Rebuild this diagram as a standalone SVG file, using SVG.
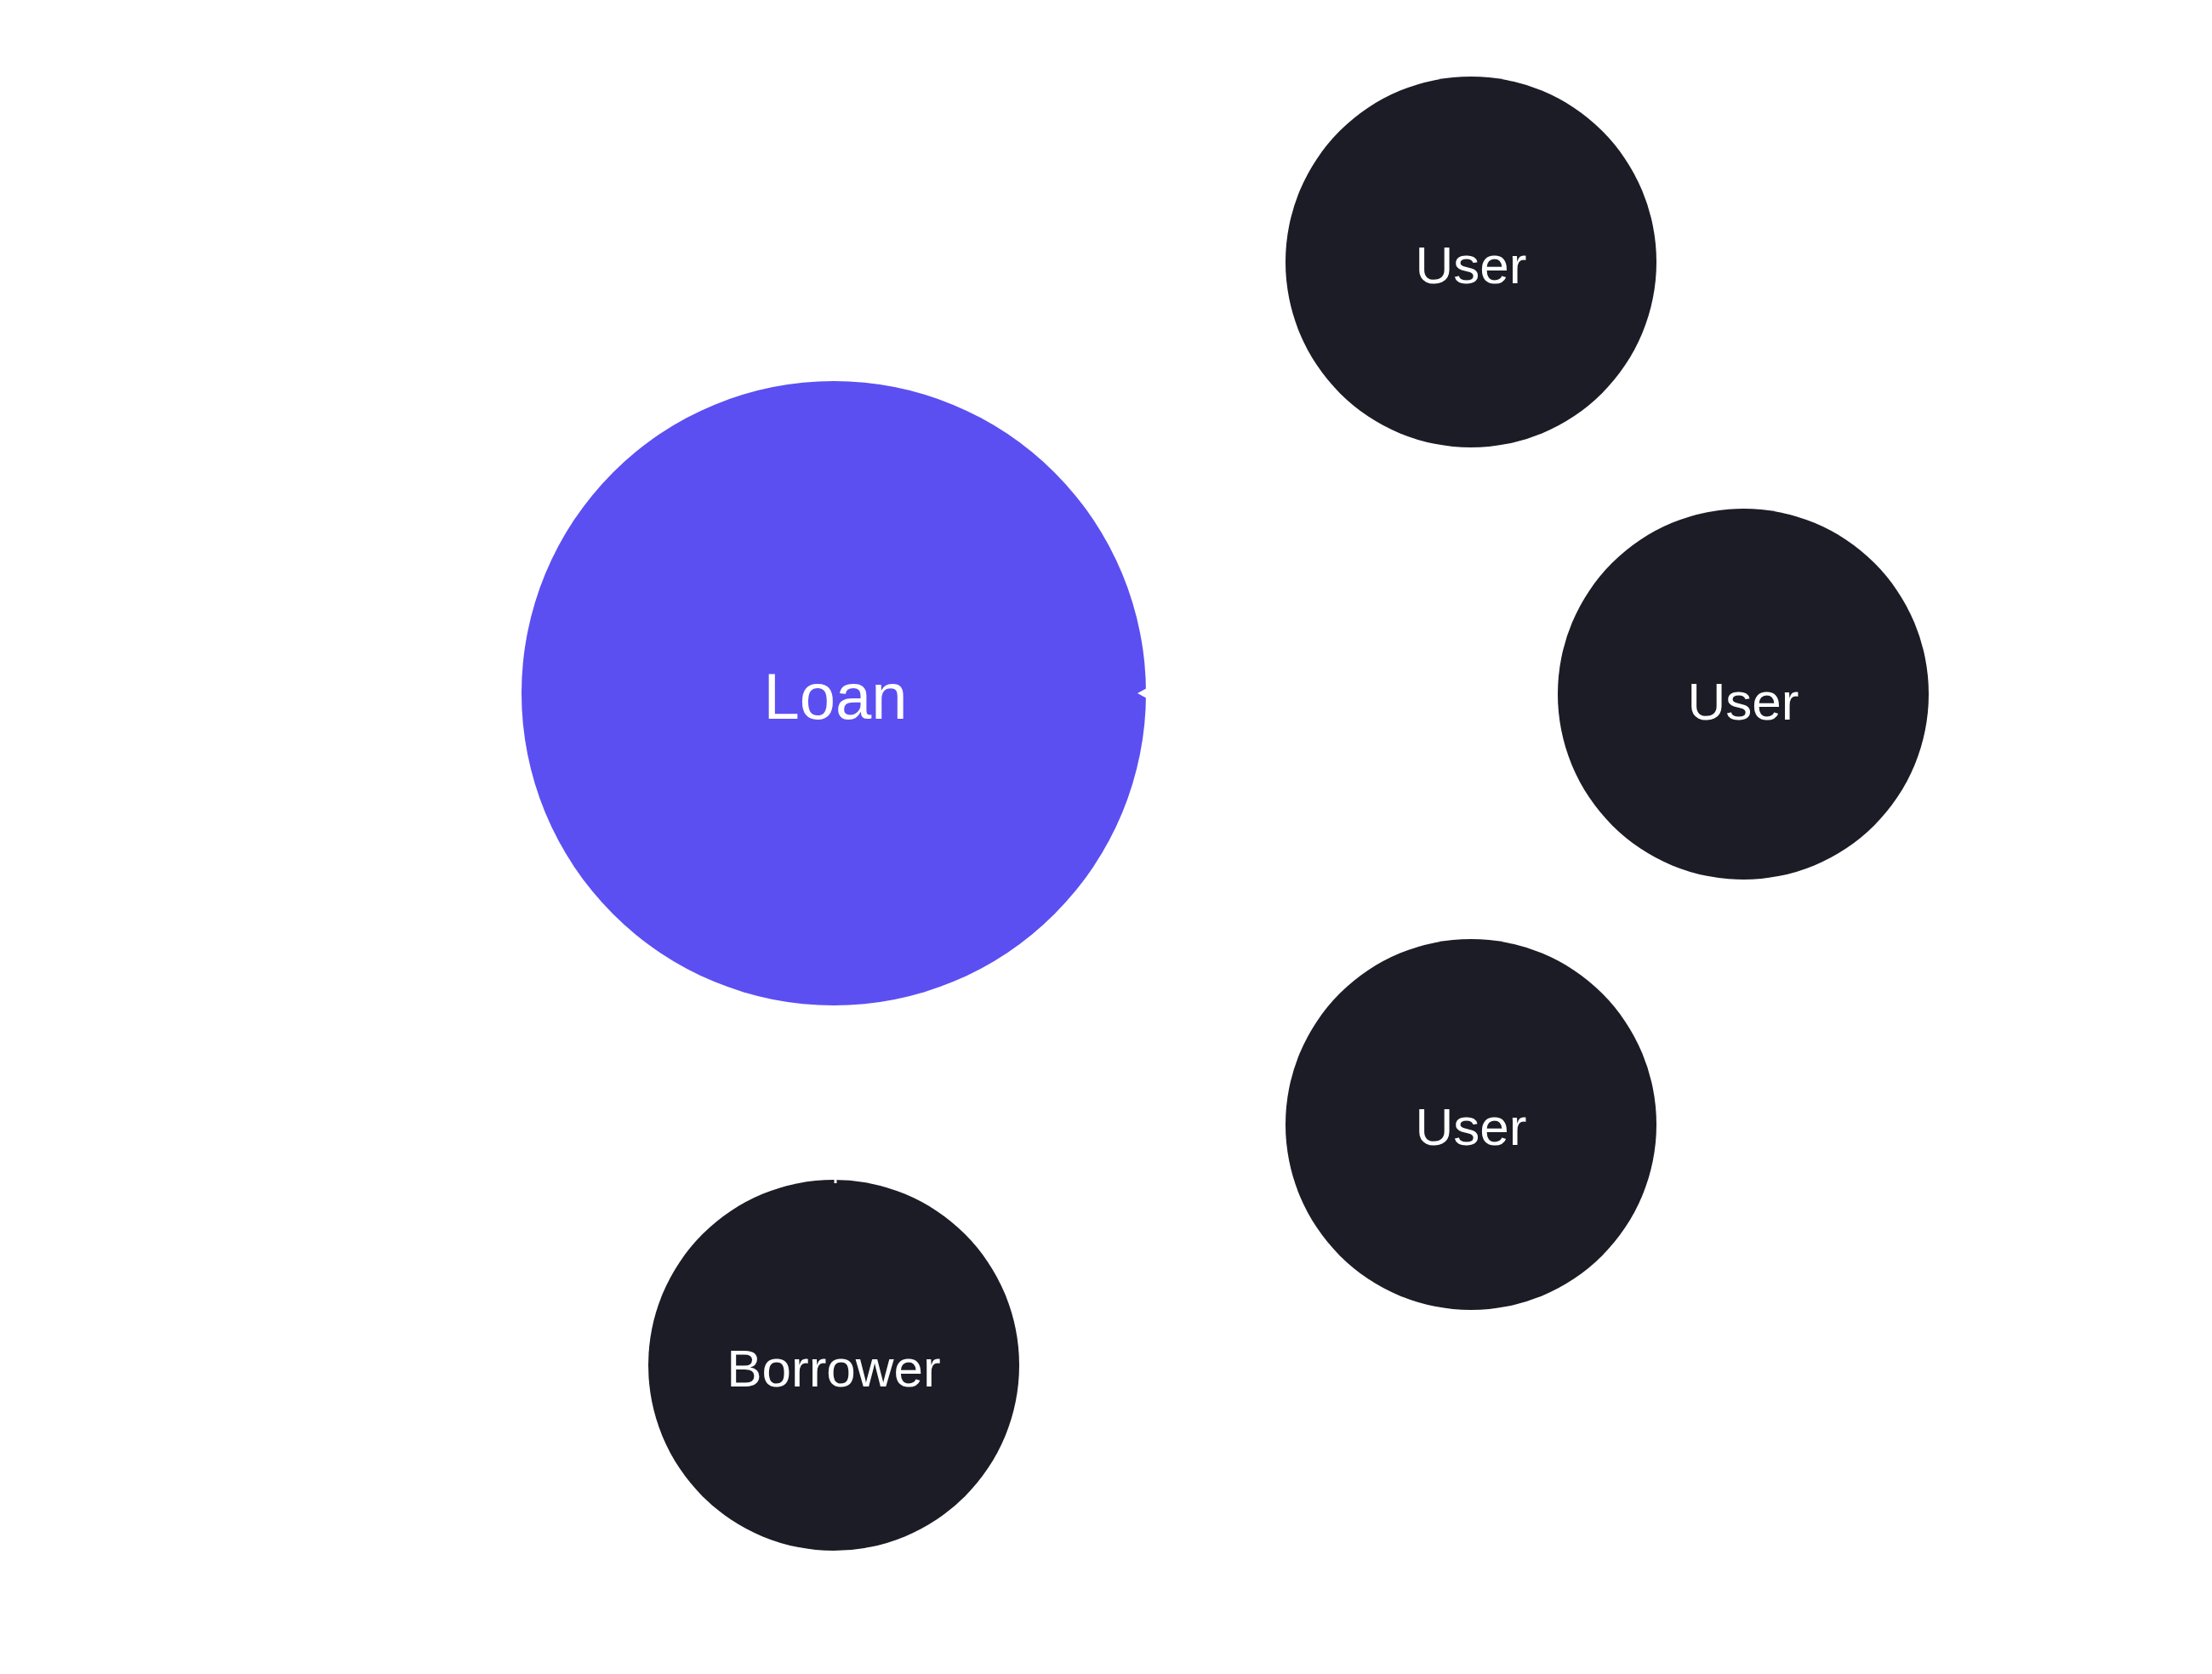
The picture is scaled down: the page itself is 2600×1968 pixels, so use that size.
<svg xmlns="http://www.w3.org/2000/svg" width="2600" height="1968" viewBox="0 0 2600 1968">
  <style>
    .label { font-family: "Liberation Sans", Arial, sans-serif; fill: #ffffff; text-anchor: middle; }
    .dark { fill: #1c1c26; }
    .loan { fill: #5b4ff2; }
    .conn { fill: none; stroke: #ffffff; stroke-width: 3; }
  </style>
  <defs>
    <marker id="arrow" viewBox="0 0 10 10" refX="9" refY="5" markerWidth="4" markerHeight="4" orient="auto-start-reverse" markerUnits="strokeWidth">
      <path d="M0,0 L10,5 L0,10 Z" fill="#ffffff"/>
    </marker>
  </defs>
  <rect width="2600" height="1968" fill="#ffffff"/>

  <g id="connectors">
    <line class="conn" x1="1831" y1="815" x2="1346" y2="815" marker-end="url(#arrow)"/>
    <line class="conn" x1="982" y1="1192" x2="982" y2="1391"/>
  </g>

  <g id="node-loan">
    <circle class="loan" cx="980" cy="815" r="367"/>
    <text class="label" x="982" y="845" font-size="76">Loan</text>
  </g>
  <g id="node-user-1">
    <circle class="dark" cx="1729" cy="308" r="218"/>
    <text class="label" x="1729" y="333" font-size="62">User</text>
  </g>
  <g id="node-user-2">
    <circle class="dark" cx="2049" cy="816" r="218"/>
    <text class="label" x="2049" y="846" font-size="62">User</text>
  </g>
  <g id="node-user-3">
    <circle class="dark" cx="1729" cy="1322" r="218"/>
    <text class="label" x="1729" y="1346" font-size="62">User</text>
  </g>
  <g id="node-borrower">
    <circle class="dark" cx="980" cy="1605" r="218"/>
    <text class="label" x="980" y="1630" font-size="62">Borrower</text>
  </g>
  <g id="connector-tips">
    <line class="conn" x1="982" y1="1385" x2="982" y2="1391"/>
    <path d="M1337,815 L1348,809 L1348,821 Z" fill="#ffffff"/>
  </g>
</svg>
